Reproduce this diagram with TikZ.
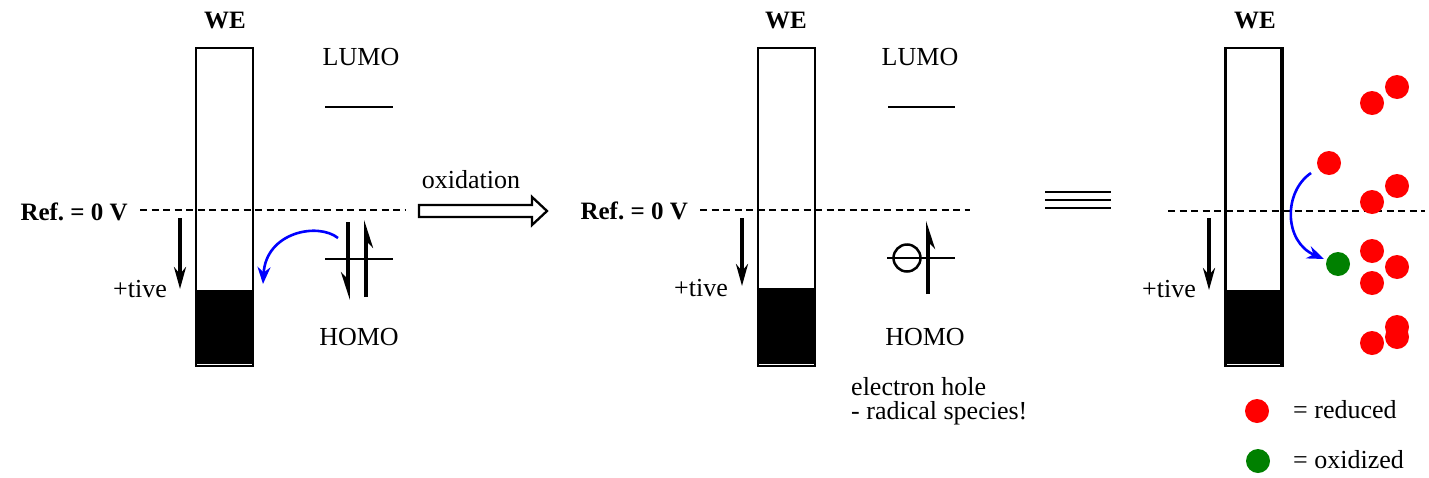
\documentclass[tikz,border=0pt]{standalone}
\usepackage{fontspec}
\setmainfont{Liberation Serif}
\usetikzlibrary{arrows.meta}
\definecolor{myred}{RGB}{255,0,0}
\definecolor{mygreen}{RGB}{0,128,0}
\definecolor{myblue}{RGB}{0,0,255}
\frenchspacing
\begin{document}
\begin{tikzpicture}[x=1pt,y=-1pt,
  txt/.style={inner sep=0pt,font=\fontsize{26}{30}\selectfont},
  btxt/.style={inner sep=0pt,font=\fontsize{25}{30}\selectfont\bfseries},
  electrode/.style={draw,line width=2.5pt,minimum width=57pt,minimum height=318pt,inner sep=0pt},
  refline/.style={dash pattern=on 7pt off 4.5pt,line width=2.3pt},
  downarr/.style={line width=3.5pt,-{Stealth[length=22pt,width=12pt]}},
  level/.style={line width=2.6pt},
  spin/.style={line width=4pt,-{Stealth[harpoon,swap,length=22pt,width=14pt]}},
  bluearr/.style={myblue,line width=2.6pt,-{Stealth[length=17pt,width=13pt]}},
  redmol/.style={circle,fill=myred,minimum size=24pt,inner sep=0pt},
  greenmol/.style={circle,fill=mygreen,minimum size=24pt,inner sep=0pt},
  hollowarr/.style={draw,line width=2.3pt,fill=white}
]
\useasboundingbox (0,0) rectangle (1429,477);

% ---------------- Panel 1 ----------------
\node[btxt,anchor=base] (we1) at (225,28) {WE};
\node[electrode] (el1) at (224.5,207) {};
\fill (196,290) rectangle (253,364.2);
\node[btxt,anchor=base east] (ref1) at (128,220) {Ref.\ = 0 V};
\coordinate (d1a) at (140,210);
\coordinate (d1b) at (406,210);
\draw[refline] (d1a) -- (d1b);
\coordinate (a1s) at (180,218);
\coordinate (a1e) at (180,289);
\draw[downarr] (a1s) -- (a1e);
\node[txt,anchor=base east] (tive1) at (167,297) {+tive};
\node[txt,anchor=base] (lumo1) at (361,65) {LUMO};
\coordinate (l1a) at (325,107); \coordinate (l1b) at (393,107);
\draw[level] (l1a) -- (l1b);
\coordinate (h1a) at (325,259); \coordinate (h1b) at (393,259);
\draw[level] (h1a) -- (h1b);
\coordinate (s1a) at (348,222); \coordinate (s1b) at (348,300);
\draw[spin] (s1a) -- (s1b);
\coordinate (s2a) at (366,297); \coordinate (s2b) at (366,220);
\draw[spin] (s2a) -- (s2b);
\node[txt,anchor=base] (homo1) at (359,345) {HOMO};
\coordinate (b1s) at (338,238);
\coordinate (b1e) at (263,284);
\draw[bluearr] (b1s) .. controls (318,222) and (266,232) .. (b1e);

% ---------------- oxidation arrow ----------------
\node[txt,anchor=base] (oxid) at (471,188) {oxidation};
\draw[hollowarr] (419,205) -- (532,205) -- (532,197) -- (547,211) -- (532,225) -- (532,217) -- (419,217) -- cycle;

% ---------------- Panel 2 ----------------
\node[btxt,anchor=base] (we2) at (786,28) {WE};
\node[electrode] (el2) at (786.5,207) {};
\fill (758,288) rectangle (815,364.2);
\node[btxt,anchor=base east] (ref2) at (688,219) {Ref.\ = 0 V};
\coordinate (d2a) at (700,210);
\coordinate (d2b) at (970,210);
\draw[refline] (d2a) -- (d2b);
\coordinate (a2s) at (742,218);
\coordinate (a2e) at (742,286);
\draw[downarr] (a2s) -- (a2e);
\node[txt,anchor=base east] (tive2) at (728,296) {+tive};
\node[txt,anchor=base] (lumo2) at (920,65) {LUMO};
\coordinate (l2a) at (888,107); \coordinate (l2b) at (955,107);
\draw[level] (l2a) -- (l2b);
\coordinate (h2a) at (887,258); \coordinate (h2b) at (955,258);
\draw[level] (h2a) -- (h2b);
\node[circle,draw,line width=2.5pt,minimum size=27pt,inner sep=0pt] (hole) at (907,258) {};
\coordinate (s3a) at (928,294); \coordinate (s3b) at (928,221);
\draw[spin] (s3a) -- (s3b);
\node[txt,anchor=base] (homo2) at (925,345) {HOMO};
\node[txt,anchor=base west] (eh1) at (851,395) {electron hole};
\node[txt,anchor=base west] (eh2) at (851,419) {- radical species!};

% ---------------- equivalence ----------------
\coordinate (e1a) at (1045,192); \coordinate (e1b) at (1111,192);
\coordinate (e2a) at (1045,200); \coordinate (e2b) at (1111,200);
\coordinate (e3a) at (1045,208); \coordinate (e3b) at (1111,208);
\draw[line width=2.8pt] (e1a) -- (e1b) (e2a) -- (e2b) (e3a) -- (e3b);

% ---------------- Panel 3 ----------------
\node[btxt,anchor=base] (we3) at (1255,28) {WE};
\node[electrode] (el3) at (1254,207) {};
\fill (1226,290) rectangle (1282,364.2);
\draw[line width=3.5pt] (1282,48) -- (1282,366);
\coordinate (d3a) at (1168,211);
\coordinate (d3b) at (1425,211);
\draw[refline] (d3a) -- (d3b);
\coordinate (a3s) at (1209,218);
\coordinate (a3e) at (1209,290);
\draw[downarr] (a3s) -- (a3e);
\node[txt,anchor=base east] (tive3) at (1196,297) {+tive};

\node[redmol] (r1) at (1397,87) {};
\node[redmol] (r2) at (1372,103) {};
\node[redmol] (r3) at (1329,163) {};
\node[redmol] (r4) at (1397,186) {};
\node[redmol] (r5) at (1372,202) {};
\node[redmol] (r6) at (1372,251) {};
\node[redmol] (r7) at (1397,267) {};
\node[redmol] (r8) at (1372,283) {};
\node[redmol] (r9) at (1397,327) {};
\node[redmol] (r10) at (1397,337) {};
\node[redmol] (r11) at (1372,343) {};
\node[greenmol] (g1) at (1338,264) {};
\coordinate (b3s) at (1311,173);
\coordinate (b3e) at (1324,259);
\draw[bluearr] (b3s) .. controls (1283,192) and (1284,242) .. (b3e);

% legend
\node[redmol] (lr) at (1257,411) {};
\node[txt,anchor=base west] (lrt) at (1293,418) {= reduced};
\node[greenmol] (lg) at (1258,461) {};
\node[txt,anchor=base west] (lgt) at (1293,468) {= oxidized};
\end{tikzpicture}
\end{document}
